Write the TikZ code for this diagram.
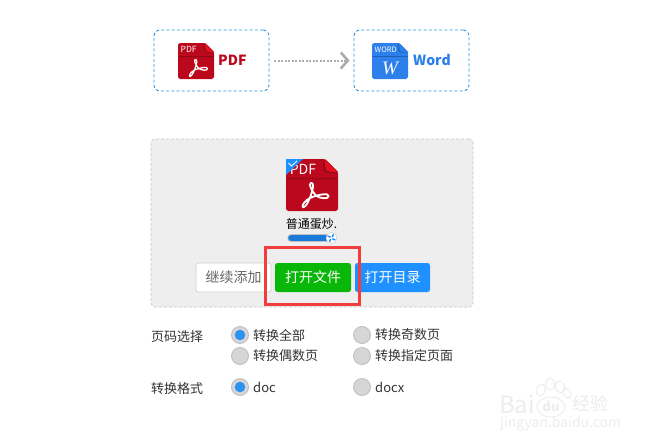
\documentclass[tikz,border=0pt]{standalone}
\usepackage{fontspec}
\setmainfont{Noto Sans CJK SC}
\newfontfamily\serifit{Liberation Serif}
\usetikzlibrary{arrows.meta}
\definecolor{pdfred}{HTML}{BC081C}
\definecolor{pdfdark}{HTML}{8E0A16}
\definecolor{pdffold}{HTML}{E01020}
\definecolor{wordblue}{HTML}{2D80EC}
\definecolor{wordfold}{HTML}{1F5FB8}
\definecolor{framed}{HTML}{2E94DA}
\definecolor{panelbg}{HTML}{EEEEEE}
\definecolor{panelln}{HTML}{C8C8C8}
\definecolor{btnblue}{HTML}{1E90FF}
\definecolor{btngreen}{HTML}{09B709}
\definecolor{redframe}{HTML}{F23D3D}
\definecolor{radiofill}{HTML}{D6D6D6}
\definecolor{radioline}{HTML}{C0C0C0}
\definecolor{radiodot}{HTML}{2B93F0}
\definecolor{txt}{HTML}{333333}
\definecolor{wm}{HTML}{EDEDED}
\definecolor{flowgrey}{HTML}{ABABAB}
\newcommand{\fs}[1]{\fontsize{#1}{#1}\selectfont}
% \fileicon{x}{y}{size}{body}{fold}{dark}{label}{label font size}
\newcommand{\fileicon}[8]{%
  \begin{scope}[shift={(#1,#2)},x=#3pt,y=-#3pt]
    \fill[#4,rounded corners=#3*0.05pt] (0,0) -- (0.75,0) -- (1,0.25) -- (1,1) -- (0,1) -- cycle;
    \fill[#6] (0.72,0) -- (1,0.27) -- (0.82,0.27) .. controls (0.75,0.27) and (0.72,0.22) .. (0.72,0.15) -- cycle;
    \fill[#5] (0.75,0) -- (1,0.25) -- (0.85,0.25) .. controls (0.79,0.25) and (0.75,0.2) .. (0.75,0.14) -- cycle;
    \draw[#6,line width=0.7pt] (0,0.37) -- (1,0.37);
    \node[iconlabel,font=\fs{#8}] at (0.07,0.19) {#7};
  \end{scope}}
\newcommand{\acrobat}[3]{%
  \begin{scope}[shift={(#1,#2)},x=#3pt,y=-#3pt]
    \draw[white,line width=#3*0.035pt,line join=round]
      (0.48,0.46) .. controls (0.42,0.48) and (0.5,0.62) .. (0.58,0.71)
      .. controls (0.66,0.76) and (0.82,0.78) .. (0.82,0.71)
      .. controls (0.82,0.65) and (0.62,0.68) .. (0.46,0.75)
      .. controls (0.38,0.79) and (0.28,0.9) .. (0.33,0.93)
      .. controls (0.38,0.94) and (0.47,0.75) .. (0.5,0.62)
      .. controls (0.53,0.54) and (0.53,0.45) .. (0.48,0.46) -- cycle;
  \end{scope}}
\tikzset{
  iconlabel/.style={anchor=west,inner sep=0pt,text=white},
  typebox/.style={draw=framed,line width=0.9pt,dash pattern=on 3pt off 2.2pt,rounded corners=6pt,minimum width=115pt,minimum height=61pt,inner sep=0pt},
  typename/.style={anchor=west,inner sep=0pt,font=\fs{14}\bfseries},
  flow/.style={draw=flowgrey,line width=2pt,dash pattern=on 1.7pt off 1.8pt,shorten <=5pt,shorten >=4pt,-{Straight Barb[length=7pt,width=16pt,line width=2.6pt]}},
  btn/.style={minimum height=29pt,inner sep=0pt,rounded corners=2.5pt,font=\fs{14}},
  lbl/.style={anchor=west,inner sep=0pt,text=txt,font=\fs{13}},
  opt/.style={anchor=west,inner sep=0pt,text=txt,font=\fs{13}},
  radio/.style={circle,draw=radioline,fill=radiofill,line width=0.9pt,minimum size=17pt,inner sep=0pt},
  radioon/.style={radio,path picture={\fill[radiodot] (path picture bounding box.center) circle (5.3pt);}},
  wmtext/.style={inner sep=0pt,text=wm},
}
\begin{document}
\begin{tikzpicture}[x=1pt,y=-1pt]
\useasboundingbox (0,0) rectangle (647,447);
\fill[white] (0,0) rectangle (647,447);
% top row
\node[typebox] (pdfbox) at (211.5,60.5) {};
\node[typebox] (wordbox) at (411.5,60.5) {};
\fileicon{178}{43}{36}{pdfred}{pdffold}{pdfdark}{PDF}{8.5}
\acrobat{178}{43}{36}
\node[typename,text=pdfred] (pdfname) at (218,60) {PDF};
\fileicon{372}{43}{36}{wordblue}{wordblue}{wordfold}{WORD}{7.5}
\node[inner sep=0pt,text=white,font=\serifit\fs{19}\itshape] (wordw) at (390,68) {W};
\node[typename,text=wordblue] (wordname) at (413,60) {Word};
\draw[flow] (pdfbox.east) -- (wordbox.west);
% panel
\node[draw=panelln,fill=panelbg,line width=0.7pt,dash pattern=on 3pt off 2pt,rounded corners=4pt,minimum width=322pt,minimum height=168pt,inner sep=0pt] (panel) at (312,223) {};
\fileicon{286}{159}{52}{pdfred}{pdffold}{pdfdark}{PDF}{14}
\acrobat{286}{159}{52}
\fill[btnblue] (286,159) -- (303,159) -- (286,175) -- cycle;
\draw[white,line width=0.8pt] (288.5,163) -- (291.5,166) -- (297,161);
\node[inner sep=0pt,text=black,font=\fs{12}] (fname) at (311.5,224) {普通蛋炒.};
% progress
\draw[line cap=round,line width=8.4pt,draw=white!75!black] (291.5,238) -- (333,238);
\draw[line cap=round,line width=6.6pt,draw=btnblue!85!black] (291.5,238) -- (327,238);
\node[circle,fill=white,draw=white!80!black,line width=0.4pt,minimum size=11pt,inner sep=0pt] (spin) at (331.5,238) {};
\foreach \a in {0,90,180,270}{\draw[btnblue,line width=1.4pt] (spin.center) ++(\a+45:1.2pt) -- ++(\a+70:3.2pt);}
% buttons
\node[btn,draw=black!18,fill=white,text=black!60,minimum width=75pt,line width=0.8pt] (addbtn) at (233.5,277.5) {继续添加};
\node[btn,fill=btngreen,text=white,minimum width=76pt] (openfile) at (313,277.5) {打开文件};
\node[btn,fill=btnblue,text=white,minimum width=75pt] (opendir) at (392.5,277.5) {打开目录};
\node[draw=redframe,line width=3pt,minimum width=94pt,minimum height=57pt,inner sep=0pt] (mark) at (312,275.5) {};
% options
\node[lbl] (l1) at (151,337) {页码选择};
\node[lbl] (l2) at (151,389) {转换格式};
\node[radioon] (r1) at (240,335) {};
\node[radio] (r2) at (362,335) {};
\node[radio] (r3) at (240,356) {};
\node[radio] (r4) at (362,356) {};
\node[radioon] (r5) at (240,387) {};
\node[radio] (r6) at (362,387) {};
\node[opt] at (253,335) {转换全部};
\node[opt] at (375,335) {转换奇数页};
\node[opt] at (253,356) {转换偶数页};
\node[opt] at (375,356) {转换指定页面};
\node[opt] at (253,387) {doc};
\node[opt] at (375,387) {docx};
% watermark
\node[wmtext,anchor=west,font=\fs{24}] (wbai) at (499,404) {Bai};
\draw[wm,line width=1pt,rotate around={-15:(541,390)}] (541,390) ellipse (4pt and 6pt);
\draw[wm,line width=1pt] (550,384) ellipse (4.5pt and 6pt);
\draw[wm,line width=1pt,rotate around={15:(560,387)}] (560,387) ellipse (4.5pt and 6pt);
\draw[wm,line width=1pt,rotate around={30:(567,393)}] (567,393) ellipse (3.5pt and 5.5pt);
\draw[wm,line width=1pt] (551,407) ellipse (14pt and 10pt);
\node[wmtext,font=\fs{13}\bfseries] (wdu) at (551,406) {du};
\node[wmtext,anchor=west,font=\fs{18}] (wjy) at (572,404) {经验};
\node[wmtext,anchor=west,font=\fs{14}] (wurl) at (500,424) {jingyan.baidu.com};
\end{tikzpicture}
\end{document}
